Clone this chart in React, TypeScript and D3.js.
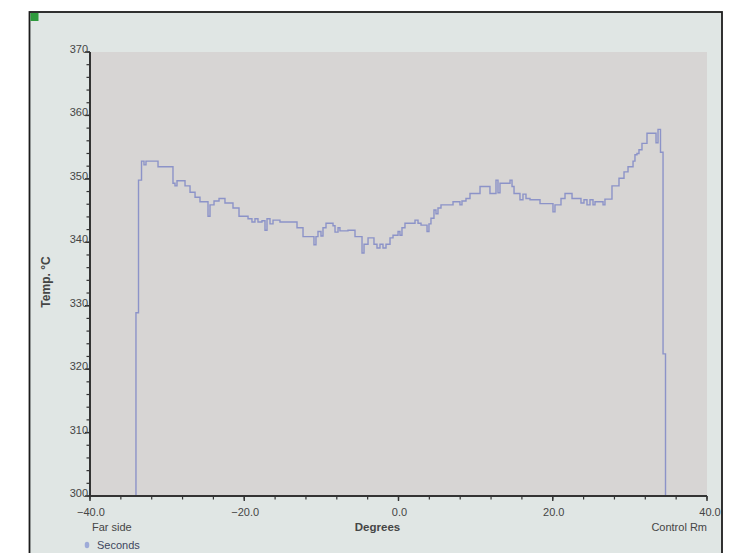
import React from "react";
import * as d3 from "d3";

const degrees: number[] = [
  -34.04, -34.04, -33.71, -33.32, -33.0, -32.74, -31.18, -29.24, -28.98, -28.72,
  -27.68, -27.03, -26.38, -25.74, -24.7, -24.44, -23.92, -23.27, -22.5, -21.46,
  -20.68, -19.51, -19.0, -18.61, -18.22, -17.7, -17.31, -17.05, -16.66, -16.27,
  -15.37, -13.16, -12.38, -10.96, -10.7, -10.44, -10.05, -9.79, -9.4, -8.49,
  -8.23, -7.84, -7.59, -6.55, -5.64, -4.73, -4.47, -3.95, -3.18, -2.79,
  -2.4, -2.01, -1.62, -1.1, -0.71, -0.06, 0.19, 0.45, 0.84, 2.14,
  2.53, 2.92, 3.7, 3.95, 4.21, 4.6, 4.86, 5.12, 5.51, 7.07,
  7.97, 8.23, 8.75, 9.27, 10.57, 11.86, 12.64, 12.9, 13.16, 14.46,
  14.72, 14.98, 15.75, 16.14, 16.53, 17.05, 18.35, 20.03, 20.29, 21.07,
  21.59, 22.5, 23.66, 24.05, 24.44, 24.83, 25.22, 25.48, 26.52, 26.77,
  27.68, 28.59, 29.24, 29.76, 30.41, 30.66, 30.92, 31.18, 31.57, 32.22,
  33.39, 33.65, 33.97, 34.3, 34.62,
];

const temps: number[] = [
  300, 328.9, 349.8, 352.8, 352.2, 352.8, 351.9, 349.3, 348.9, 349.7,
  348.9, 347.9, 347.1, 346.4, 344.1, 345.9, 346.5, 346.9, 346.2, 345.4,
  344.1, 343.7, 343.2, 343.7, 343.2, 343.4, 341.9, 343.7, 342.9, 343.5,
  343.2, 342.3, 340.9, 339.6, 340.9, 341.7, 341.0, 342.3, 343.0, 342.6,
  341.6, 342.3, 341.8, 341.9, 340.9, 338.3, 339.7, 340.7, 339.7, 339.1,
  339.7, 339.1, 339.7, 340.7, 341.1, 341.7, 341.1, 342.3, 343.0, 343.5,
  343.0, 342.7, 341.7, 342.9, 343.8, 345.1, 344.5, 345.4, 345.9, 346.4,
  345.9, 346.5, 346.9, 347.7, 348.8, 347.7, 349.8, 347.8, 349.3, 349.8,
  348.8, 347.7, 346.7, 347.6, 346.9, 346.7, 346.1, 344.8, 345.9, 346.9,
  347.7, 346.9, 346.2, 346.7, 345.9, 346.7, 345.9, 346.4, 345.9, 346.8,
  348.9, 350.1, 351.1, 351.9, 352.8, 353.8, 354.0, 354.6, 355.6, 357.2,
  355.7, 357.8, 354.2, 322.4, 300,
];

const yMajorTicks: number[] = [300, 310, 320, 330, 340, 350, 360, 370];
const xMajorTicks: number[] = [-40, -20, 0, 20, 40];
const xDomain: [number, number] = [-40, 40];
const yDomain: [number, number] = [300, 370];

const xAxisTitle = "Degrees";
const yAxisTitle = "Temp. °C";
const leftNote = "Far side";
const rightNote = "Control Rm";
const legendLabel = "Seconds";

export default function App() {
  const W = 731;
  const H = 553;
  const left = 90;
  const right = 707;
  const top = 52;
  const bottom = 496;

  const x = d3.scaleLinear().domain(xDomain).range([left, right]);
  const y = d3.scaleLinear().domain(yDomain).range([bottom, top]);

  const pts = degrees.map((d, i) => [d, temps[i]] as [number, number]);
  const line = d3
    .line<[number, number]>()
    .x((d) => x(d[0]))
    .y((d) => y(d[1]))
    .curve(d3.curveStepAfter);

  const yMinor = d3.range(300, 370.001, 2);
  const xMinor = d3.range(-40, 40.001, 4);
  const fmtX = d3.format(".1f");
  const font = "'Liberation Sans', Arial, sans-serif";
  const textCol = "#454545";

  return (
    <svg
      width={W}
      height={H}
      style={{ position: "absolute", left: 0, top: 0, background: "#ffffff" }}
      fontFamily={font}
    >
      <rect x={29.5} y={12} width={692.5} height={560} fill="#e0e6e4" stroke="#1c1c1c" strokeWidth={1.8} />
      <rect x={30.5} y={13} width={8} height={8} fill="#2e9a3c" />
      <rect x={left} y={top} width={right - left} height={bottom - top} fill="#d7d5d4" />

      <path d={line(pts) || ""} fill="none" stroke="#8c93c8" strokeWidth={1.4} />

      {/* y axis */}
      <line x1={left} x2={left} y1={top} y2={bottom} stroke="#333" strokeWidth={2} />
      {yMinor.map((v) => (
        <line key={"ym" + v} x1={left - 3.5} x2={left} y1={y(v)} y2={y(v)} stroke="#333" strokeWidth={1.2} />
      ))}
      {yMajorTicks.map((v) => (
        <g key={"yM" + v}>
          <line x1={left - 5} x2={left} y1={y(v)} y2={y(v)} stroke="#333" strokeWidth={1.4} />
          <text x={left - 2} y={y(v) + 1} textAnchor="end" fontSize={11} fill={textCol}>
            {v}
          </text>
        </g>
      ))}

      {/* x axis */}
      <line x1={left} x2={right} y1={bottom} y2={bottom} stroke="#333" strokeWidth={2} />
      {xMinor.map((v) => (
        <line key={"xm" + v} x1={x(v)} x2={x(v)} y1={bottom} y2={bottom + 3.5} stroke="#333" strokeWidth={1.2} />
      ))}
      {xMajorTicks.map((v) => (
        <g key={"xM" + v}>
          <line x1={x(v)} x2={x(v)} y1={bottom} y2={bottom + 5} stroke="#333" strokeWidth={1.4} />
          <text x={x(v) + (v === 40 ? 3 : 1)} y={bottom + 20} textAnchor="middle" fontSize={11} fill={textCol}>
            {fmtX(v)}
          </text>
        </g>
      ))}

      <text x={left + 2} y={bottom + 35} fontSize={11} fill={textCol}>
        {leftNote}
      </text>
      <text x={x(0) - 21} y={bottom + 35} fontSize={11.5} fontWeight="bold" textAnchor="middle" fill={textCol}>
        {xAxisTitle}
      </text>
      <text x={right} y={bottom + 35} fontSize={11} textAnchor="end" fill={textCol}>
        {rightNote}
      </text>

      <ellipse cx={87} cy={545} rx={2.3} ry={3.3} fill="#9eabd8" />
      <text x={97} y={549} fontSize={11} fill="#3e4660">
        {legendLabel}
      </text>

      <text
        transform={`translate(50, 282) rotate(-90)`}
        textAnchor="middle"
        fontSize={12}
        fontWeight="bold"
        fill={textCol}
      >
        {yAxisTitle}
      </text>
    </svg>
  );
}
